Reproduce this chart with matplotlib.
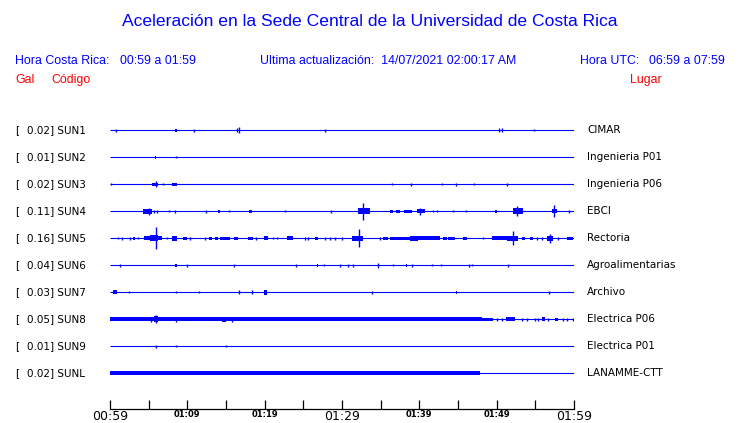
import matplotlib
matplotlib.use("Agg")
import matplotlib.pyplot as plt

# minutes after 00:59, half amplitude in pixels
stations = ["SUN1", "SUN2", "SUN3", "SUN4", "SUN5", "SUN6", "SUN7", "SUN8", "SUN9", "SUNL"]
scales = ["0.02", "0.01", "0.02", "0.11", "0.16", "0.04", "0.03", "0.05", "0.01", "0.02"]
places = ["CIMAR", "Ingenieria P01", "Ingenieria P06", "EBCI", "Rectoria", "Agroalimentarias",
          "Archivo", "Electrica P06", "Electrica P01", "LANAMME-CTT"]

tick_min = [0, 5, 10, 15, 20, 25, 30, 35, 40, 45, 50, 55, 60]
tick_lab = ["00:59", "", "01:09", "", "01:19", "", "01:29", "", "01:39", "", "01:49", "", "01:59"]

# (start, end, amplitude) ; start == end means a single spike
sun1 = [(0.78, 0.78, 1.5), (8.4, 8.6, 1.5), (10.9, 10.9, 1.5), (16.38, 16.38, 2), (16.72, 16.72, 3),
        (27.8, 27.8, 1.5), (50.34, 50.34, 2), (50.69, 50.69, 2), (54.87, 54.87, 1)]
sun2 = [(5.8, 6.0, 1.5), (8.5, 8.5, 1)]
sun3 = [(0.09, 0.09, 1), (5.39, 6.25, 1.5), (5.91, 5.91, 3), (6.89, 6.89, 1), (8.06, 8.63, 1.5),
        (36.5, 36.5, 1), (38.88, 38.88, 1.5), (42.89, 42.89, 1), (44.78, 44.78, 1.5),
        (47.11, 47.11, 1), (51.38, 51.38, 1.5)]
sun4 = [(4.31, 5.39, 2.5), (5.08, 5.08, 3.5), (5.73, 5.73, 1.5), (6.04, 6.04, 1.5), (7.67, 7.67, 1),
        (8.44, 8.44, 1.5), (12.41, 12.41, 1.5), (14.0, 14.22, 1.5), (15.43, 15.43, 1),
        (17.97, 18.32, 1.5), (22.67, 22.67, 1), (28.62, 28.62, 1.5), (32.11, 33.62, 3),
        (32.68, 32.68, 8.5), (36.21, 36.56, 1.5), (36.98, 37.5, 1.5), (38.02, 39.01, 1.5),
        (39.66, 40.73, 2), (40.09, 40.09, 3.5), (41.81, 41.81, 1), (42.25, 42.25, 1),
        (44.39, 44.39, 1), (46.03, 46.03, 1), (49.78, 50.08, 1.5), (52.15, 53.44, 3),
        (52.59, 52.59, 5), (57.19, 57.76, 2), (57.41, 57.41, 6), (59.39, 59.39, 1.5)]
sun5 = [(1.07, 1.07, 1), (1.59, 1.59, 1.5), (2.59, 2.59, 1.5), (3.01, 3.23, 1.5), (3.66, 3.66, 1),
        (4.44, 5.17, 2), (5.17, 6.25, 3), (5.91, 5.91, 11), (6.25, 6.69, 2), (7.33, 7.33, 1),
        (7.98, 8.63, 2.5), (9.48, 9.92, 1.5), (10.34, 10.34, 1.5), (12.28, 12.28, 1.5),
        (12.8, 13.15, 1.5), (13.58, 13.93, 1.5), (14.22, 15.52, 1.5), (16.07, 16.59, 1.5),
        (17.88, 18.53, 1.5), (18.84, 18.84, 1.5), (19.95, 20.47, 2), (21.12, 21.12, 1),
        (21.56, 21.56, 1), (22.85, 23.7, 2), (25.22, 25.22, 1.5), (25.64, 25.64, 1.5),
        (26.51, 26.94, 1.5), (27.8, 27.8, 1.5), (28.45, 28.45, 1.5), (29.09, 29.09, 1.5),
        (29.96, 29.96, 1.5), (31.26, 32.76, 2.5), (32.24, 32.24, 9), (34.91, 34.91, 1.5),
        (35.34, 35.99, 1.5), (36.21, 38.79, 1.5), (38.79, 39.86, 2.5), (39.86, 42.67, 2),
        (43.1, 43.54, 1.5), (43.75, 44.61, 1.5), (45.61, 46.13, 1.5), (48.19, 48.19, 1),
        (49.36, 51.3, 2), (51.3, 52.8, 2.5), (52.15, 52.15, 7), (53.24, 53.67, 1.5),
        (54.31, 54.74, 1.5), (55.18, 55.18, 1.5), (55.82, 55.82, 1.5), (56.47, 57.32, 2.5),
        (56.9, 56.9, 4.5), (57.97, 57.97, 1.5), (59.06, 59.91, 1.5)]
sun6 = [(1.33, 1.33, 1.5), (8.4, 8.6, 1.5), (9.96, 9.96, 1.5), (16.0, 16.0, 1.5), (24.01, 24.01, 1.5),
        (26.73, 26.94, 1.5), (27.71, 27.71, 1), (29.74, 29.74, 1.5), (30.82, 30.82, 1.5),
        (31.46, 31.46, 1.5), (34.69, 34.69, 2.5), (36.63, 36.63, 1), (38.24, 38.44, 1.5),
        (39.01, 39.01, 1.5), (41.6, 41.6, 1), (42.76, 42.76, 1), (46.46, 46.46, 1.5),
        (46.77, 46.77, 1), (51.43, 51.43, 1.5)]
sun7 = [(0.43, 0.94, 2), (2.5, 2.5, 1), (8.5, 8.5, 1), (11.47, 11.47, 1), (16.68, 16.68, 2),
        (18.32, 18.32, 2), (19.91, 20.26, 2.5), (33.84, 33.84, 1.5), (44.74, 44.91, 1.5),
        (56.77, 56.77, 1.5)]
sun8 = [(0.0, 48.06, 2), (5.3, 5.3, 2.5), (5.73, 6.17, 3), (5.95, 5.95, 4), (8.5, 8.5, 2.5),
        (14.44, 14.96, 2.5), (15.74, 15.74, 2.5), (48.06, 49.53, 1.5), (50.0, 50.0, 1.5),
        (50.69, 50.69, 1.5), (51.21, 52.37, 2), (53.24, 53.24, 1.5), (53.88, 53.88, 1.5),
        (54.96, 54.96, 1.5), (55.38, 55.38, 1.5), (55.82, 56.25, 2), (56.68, 56.68, 1.5),
        (57.54, 57.97, 1.5), (58.54, 58.54, 1.5), (59.06, 59.06, 1.5), (59.83, 59.83, 1.5)]
sun9 = [(5.99, 5.99, 1.5), (8.5, 8.5, 1), (14.96, 14.96, 1)]
sunl = [(0.0, 47.85, 2)]
events = [sun1, sun2, sun3, sun4, sun5, sun6, sun7, sun8, sun9, sunl]

blue = "#0000ff"
red = "#ff0000"
W, H = 740, 423
fig = plt.figure(figsize=(7.4, 4.23), dpi=100)
ax = fig.add_axes([110 / W, (H - 409) / H, 464 / W, 306 / H])
ax.set_xlim(0, 60)
ax.set_ylim(10.333, -1)
px = 1 / 27.0  # one pixel in trace units

for i, evs in enumerate(events):
    ax.hlines(i, 0, 60, color=blue, lw=0.8)
    for t0, t1, a in evs:
        if t1 > t0:
            ax.fill_between([t0, t1], i - a * px, i + a * px, color=blue, lw=0)
        else:
            ax.vlines(t0, i - a * px, i + a * px, color=blue, lw=1.0)

for s in ["top", "left", "right"]:
    ax.spines[s].set_visible(False)
ax.spines["bottom"].set_linewidth(0.9)
ax.set_yticks([])
ax.set_xticks(tick_min)
ax.set_xticklabels(tick_lab)
ax.tick_params(axis="x", direction="in", length=6.5, width=0.9, pad=1)
for k, lab in enumerate(ax.get_xticklabels()):
    if tick_lab[k] in ("00:59", "01:29", "01:59"):
        lab.set_fontsize(9)
    else:
        lab.set_fontsize(6)
        lab.set_fontweight("bold")

# station labels
for i in range(len(stations)):
    y = 1 - (130 + 27 * i) / H
    fig.text(15 / W, y, "[", fontsize=7.5, va="center", ha="left", family="DejaVu Sans")
    fig.text(27 / W, y, scales[i] + "] " + stations[i], fontsize=7.5, va="center", ha="left",
             family="DejaVu Sans")
    fig.text(587 / W, y, places[i], fontsize=7.5, va="center", ha="left", family="DejaVu Sans")

hf = "Liberation Sans"
fs = 8.9
fig.text(0.5, 1 - 22 / H, "Aceleración en la Sede Central de la Universidad de Costa Rica",
         fontsize=12.6, color=blue, ha="center", va="center", family=hf)
fig.text(15 / W, 1 - 61 / H, "Hora Costa Rica:", fontsize=fs, color=blue,
         ha="left", va="center", family=hf)
fig.text(120 / W, 1 - 61 / H, "00:59 a 01:59", fontsize=fs, color=blue,
         ha="left", va="center", family=hf)
fig.text(260 / W, 1 - 61 / H, "Ultima actualización:  14/07/2021 02:00:17 AM", fontsize=fs,
         color=blue, ha="left", va="center", family=hf)
fig.text(580 / W, 1 - 61 / H, "Hora UTC:", fontsize=fs, color=blue,
         ha="left", va="center", family=hf)
fig.text(725 / W, 1 - 61 / H, "06:59 a 07:59", fontsize=fs, color=blue,
         ha="right", va="center", family=hf)
fig.text(15 / W, 1 - 80 / H, "Gal", fontsize=fs, color=red, ha="left", va="center", family=hf)
fig.text(51 / W, 1 - 80 / H, "Código", fontsize=fs, color=red, ha="left", va="center", family=hf)
fig.text(630 / W, 1 - 80 / H, "Lugar", fontsize=fs, color=red, ha="left", va="center", family=hf)

fig.savefig("out.png", dpi=100)
